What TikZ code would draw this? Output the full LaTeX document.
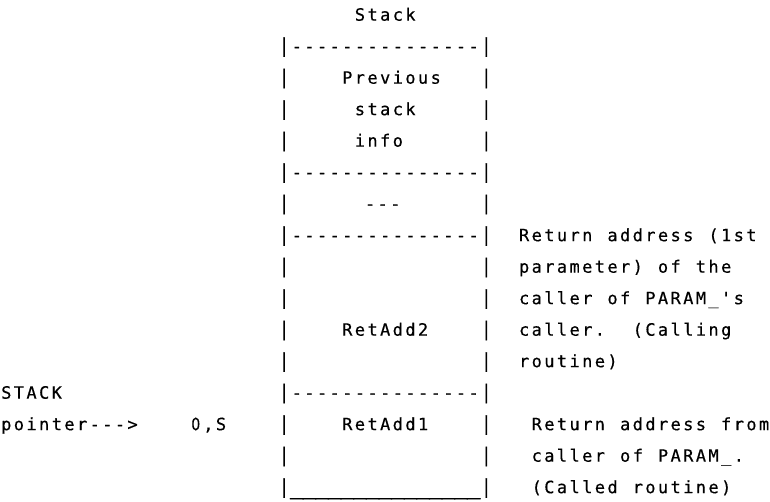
\documentclass[tikz,border=0pt]{standalone}
\usepackage{fontspec}
\usepackage{graphicx}
\newfontfamily\asciifont{DejaVu Sans Mono}[FakeBold=0.4]
\newfontfamily\zerofont{DejaVu Sans}[FakeBold=0.4]
\newlength\cellw
\setlength\cellw{12.63pt}
\makeatletter
\def\mono@end{\mono@end@}
\newcommand\mono[1]{\mono@loop#1\mono@end}
\def\mono@loop#1{%
  \ifx#1\mono@end
    \expandafter\@gobble
  \else
    \expandafter\@firstofone
  \fi
  {\mono@char{#1}\mono@loop}}
\def\mono@char#1{%
  \ifx#1~\hbox to\cellw{\hss}%
  \else\ifx#1|\hbox to\cellw{\hss\scalebox{1}[1.15]{|}\hss}%
  \else\hbox to\cellw{\hss#1\hss}\fi\fi}
\makeatother
\newcommand\wideus{\scalebox{1.35}[1.5]{\_}}
\newcommand\plainzero{\scalebox{0.82}[1]{\zerofont 0}}
\tikzset{
  txt/.style={anchor=base west, inner sep=0pt, outer sep=0pt,
    font=\asciifont\fontsize{17}{20}\selectfont}
}
\begin{document}
\begin{tikzpicture}[x=12.63pt,y=-31.5pt]
\fill[white] (0pt,0pt) rectangle (770pt,-502pt);
\useasboundingbox (0pt,0pt) rectangle (770pt,-502pt);
\def\b{0.657}
% row 0
\node[txt] (title) at (28,0+\b) {\mono{Stack}};
% row 1
\node[txt] (d1) at (22,1+\b) {\mono{|---------------|}};
% rows 2-4
\node[txt] (l2) at (22,2+\b) {\mono{|}};
\node[txt] (prev) at (27,2+\b) {\mono{Previous}};
\node[txt] (r2) at (38,2+\b) {\mono{|}};
\node[txt] (l3) at (22,3+\b) {\mono{|}};
\node[txt] (stk) at (28,3+\b) {\mono{stack}};
\node[txt] (r3) at (38,3+\b) {\mono{|}};
\node[txt] (l4) at (22,4+\b) {\mono{|}};
\node[txt] (info) at (28,4+\b) {\mono{info}};
\node[txt] (r4) at (38,4+\b) {\mono{|}};
% row 5
\node[txt] (d5) at (22,5+\b) {\mono{|---------------|}};
% row 6
\node[txt] (l6) at (22,6+\b) {\mono{|}};
\node[txt] (dots) at (28.8,6+\b) {\mono{---}};
\node[txt] (r6) at (38,6+\b) {\mono{|}};
% row 7
\node[txt] (d7) at (22,7+\b) {\mono{|---------------|}};
\node[txt] (a1) at (41,7+\b) {\mono{Return~address~(1st}};
% row 8
\node[txt] (l8) at (22,8+\b) {\mono{|}};
\node[txt] (r8) at (38,8+\b) {\mono{|}};
\node[txt] (a2) at (41,8+\b) {\mono{parameter)~of~the}};
% row 9
\node[txt] (l9) at (22,9+\b) {\mono{|}};
\node[txt] (r9) at (38,9+\b) {\mono{|}};
\node[txt] (a3) at (41,9+\b) {\mono{caller~of~PARAM\_\textquotesingle s}};
% row 10
\node[txt] (l10) at (22,10+\b) {\mono{|}};
\node[txt] (ra2) at (27,10+\b) {\mono{RetAdd2}};
\node[txt] (r10) at (38,10+\b) {\mono{|}};
\node[txt] (a4) at (41,10+\b) {\mono{caller.~~(Calling}};
% row 11
\node[txt] (l11) at (22,11+\b) {\mono{|}};
\node[txt] (r11) at (38,11+\b) {\mono{|}};
\node[txt] (a5) at (41,11+\b) {\mono{routine)}};
% row 12
\node[txt] (sp1) at (0,12+\b) {\mono{STACK}};
\node[txt] (d12) at (22,12+\b) {\mono{|---------------|}};
% row 13
\node[txt] (sp2) at (0,13+\b) {\mono{pointer--->}};
\node[txt] (os) at (15,13+\b) {\mono{\plainzero,S}};
\node[txt] (l13) at (22,13+\b) {\mono{|}};
\node[txt] (ra1) at (27,13+\b) {\mono{RetAdd1}};
\node[txt] (r13) at (38,13+\b) {\mono{|}};
\node[txt] (b1) at (42,13+\b) {\mono{Return~address~from}};
% row 14
\node[txt] (l14) at (22,14+\b) {\mono{|}};
\node[txt] (r14) at (38,14+\b) {\mono{|}};
\node[txt] (b2) at (42,14+\b) {\mono{caller~of~PARAM\_.}};
% row 15
\node[txt] (bot) at (22,15+\b) {\mono{|\wideus\wideus\wideus\wideus\wideus\wideus\wideus\wideus\wideus\wideus\wideus\wideus\wideus\wideus\wideus|}};
\node[txt] (b3) at (42,15+\b) {\mono{(Called~routine)}};
\end{tikzpicture}
\end{document}
